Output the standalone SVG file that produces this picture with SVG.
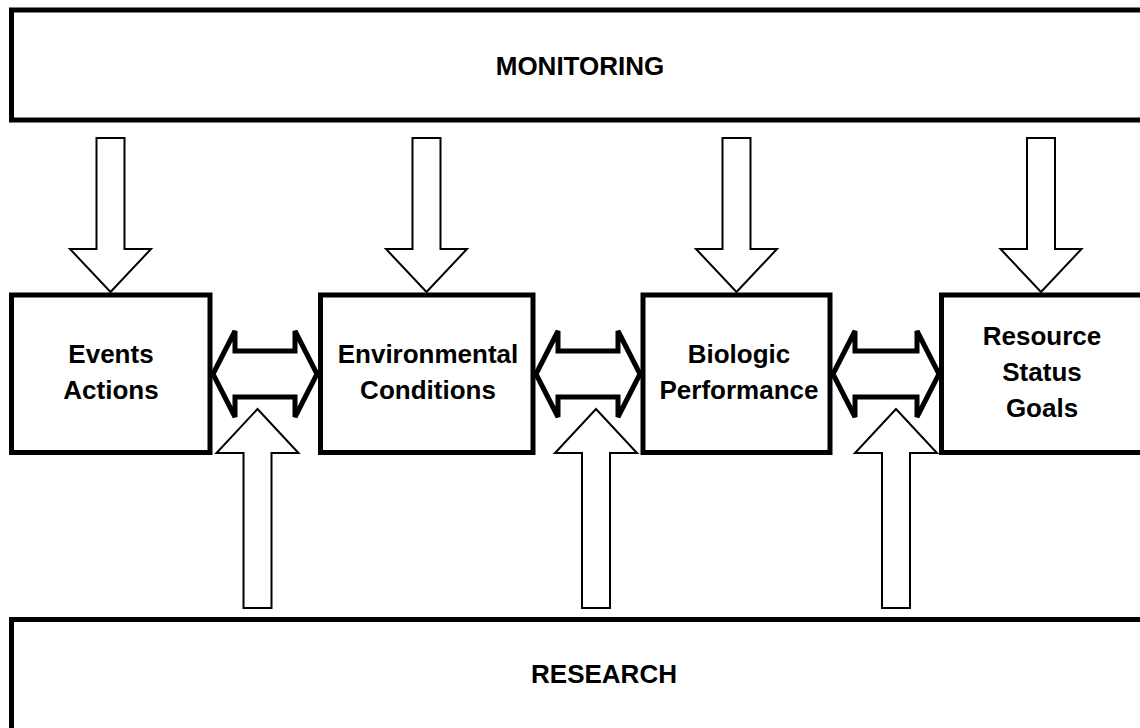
<svg xmlns="http://www.w3.org/2000/svg" width="1140" height="728" viewBox="0 0 1140 728">
<style>
.box{fill:#fff;stroke:#000;stroke-width:5}
.arr{fill:#fff;stroke:#000;stroke-width:2;stroke-linejoin:miter}
.dbl{fill:#fff;stroke:#000;stroke-width:5;stroke-linejoin:miter}
.t{font-family:"Liberation Sans",Arial,sans-serif;font-weight:bold;font-size:26px;fill:#000;text-anchor:middle}
</style>
<rect width="1140" height="728" fill="#fff"/>
<g id="monitoring">
<rect class="box" x="11.5" y="10" width="1140" height="110"/>
<text class="t" x="580" y="75" font-size="25.5">MONITORING</text>
</g>
<g id="research">
<rect class="box" x="11.5" y="619.5" width="1140" height="120"/>
<text class="t" x="604" y="683" font-size="25.5">RESEARCH</text>
</g>
<g id="events">
<rect class="box" x="11.5" y="295" width="198.5" height="157.5"/>
<text class="t" x="111" y="363">Events</text>
<text class="t" x="111" y="399">Actions</text>
</g>
<g id="environmental">
<rect class="box" x="320.5" y="295" width="212.5" height="157.5"/>
<text class="t" x="428" y="363">Environmental</text>
<text class="t" x="428" y="399">Conditions</text>
</g>
<g id="biologic">
<rect class="box" x="643" y="295" width="187" height="157.5"/>
<text class="t" x="739" y="363">Biologic</text>
<text class="t" x="739" y="399">Performance</text>
</g>
<g id="resource">
<rect class="box" x="941.5" y="295" width="210" height="157.5"/>
<text class="t" x="1042" y="345">Resource</text>
<text class="t" x="1042" y="381">Status</text>
<text class="t" x="1042" y="417">Goals</text>
</g>
<g id="connectors">
<path class="arr" d="M96.5,138 L124.5,138 L124.5,249 L151,249 L110.5,292 L70,249 L96.5,249 Z"/>
<path class="arr" d="M412.5,138 L440.5,138 L440.5,249 L467,249 L426.5,292 L386,249 L412.5,249 Z"/>
<path class="arr" d="M722.5,138 L750.5,138 L750.5,249 L777,249 L736.5,292 L696,249 L722.5,249 Z"/>
<path class="arr" d="M1027,138 L1055,138 L1055,249 L1081.5,249 L1041,292 L1000.5,249 L1027,249 Z"/>
<path class="arr" d="M243.5,608 L271.5,608 L271.5,453 L298.5,453 L257.5,409 L216.5,453 L243.5,453 Z"/>
<path class="arr" d="M582,608 L610,608 L610,453 L637,453 L596,409 L555,453 L582,453 Z"/>
<path class="arr" d="M882,608 L910,608 L910,453 L937,453 L896,409 L855,453 L882,453 Z"/>
<path class="dbl" d="M213,374 L235,331 L235,351 L295,351 L295,331 L317,374 L295,417 L295,397 L235,397 L235,417 Z"/>
<path class="dbl" d="M536,374 L558,331 L558,351 L618,351 L618,331 L640,374 L618,417 L618,397 L558,397 L558,417 Z"/>
<path class="dbl" d="M833,374 L855,331 L855,351 L917,351 L917,331 L939,374 L917,417 L917,397 L855,397 L855,417 Z"/>
</g>
</svg>
